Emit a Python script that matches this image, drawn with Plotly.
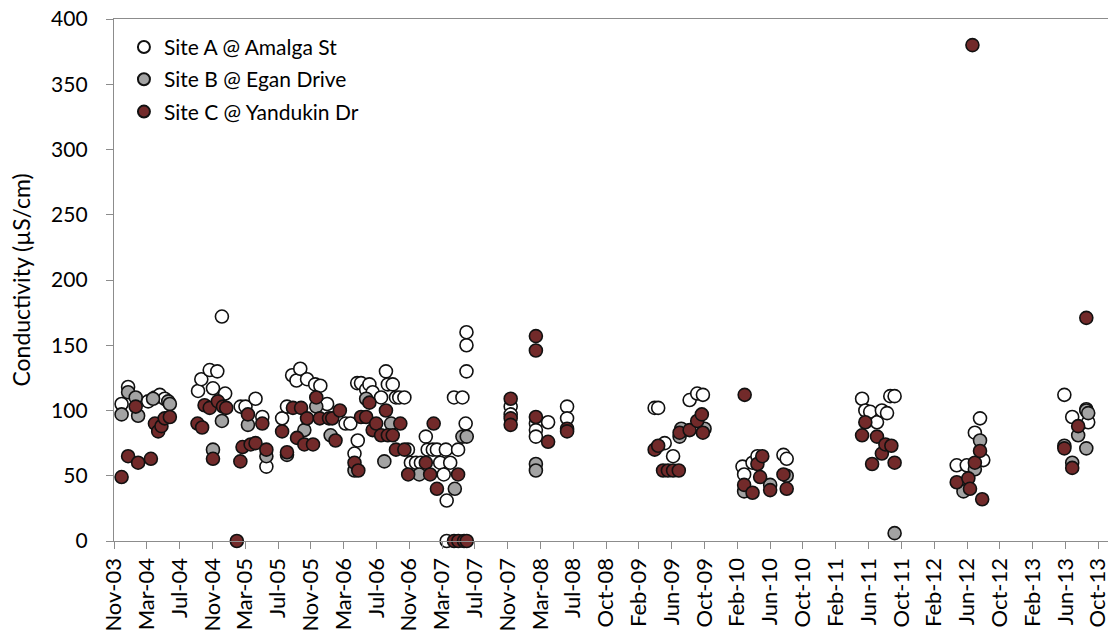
import plotly.graph_objects as go
import pandas as pd

# Conductivity samples (µS/cm) at three drainage sites
site_a_dates = [
    "2003-12-09", "2004-01-02", "2004-03-16", "2004-04-10", "2004-04-28", "2004-05-16",
    "2004-09-16", "2004-09-28", "2004-10-29", "2004-11-10", "2004-11-26", "2004-12-13",
    "2004-12-25", "2005-02-20", "2005-03-10", "2005-04-16", "2005-05-11", "2005-05-26",
    "2005-07-23", "2005-08-10", "2005-08-29", "2005-09-14", "2005-09-28", "2005-10-23",
    "2005-11-22", "2005-12-11", "2006-01-05", "2006-03-14", "2006-04-01", "2006-04-16",
    "2006-04-26", "2006-04-28", "2006-05-10", "2006-05-29", "2006-06-10", "2006-06-22",
    "2006-07-23", "2006-08-10", "2006-08-17", "2006-09-04", "2006-09-16", "2006-09-28",
    "2006-10-17", "2006-10-30", "2006-11-10", "2006-11-29", "2006-12-17", "2007-01-04",
    "2007-01-11", "2007-01-30", "2007-02-14", "2007-02-26", "2007-03-11", "2007-03-19",
    "2007-03-22", "2007-03-22", "2007-04-04", "2007-04-18", "2007-05-03", "2007-05-19",
    "2007-05-31", "2007-06-03", "2007-06-03", "2007-06-03", "2007-11-13", "2007-11-13",
    "2008-02-14", "2008-02-14", "2008-02-14", "2008-03-30", "2008-06-08", "2008-06-08",
    "2009-04-27", "2009-05-10", "2009-06-03", "2009-07-04", "2009-09-03", "2009-10-01",
    "2009-10-22", "2010-03-17", "2010-03-23", "2010-04-23", "2010-05-11", "2010-08-15",
    "2010-08-27", "2011-06-01", "2011-06-13", "2011-07-01", "2011-07-26", "2011-08-13",
    "2011-09-01", "2011-09-13", "2011-09-29", "2012-05-15", "2012-06-21", "2012-07-21",
    "2012-08-09", "2012-08-21", "2013-06-16", "2013-07-15", "2013-09-05", "2013-09-12",
]
site_a_values = [
    105, 118, 107, 110, 112, 109,
    115, 124, 131, 117, 130, 172,
    113, 103, 103, 109, 95, 57,
    94, 103, 127, 123, 132, 124,
    120, 119, 105, 90, 90, 67,
    121, 77, 121, 116, 120, 114,
    110, 130, 120, 120, 110, 110,
    110, 70, 60, 60, 60, 80,
    70, 70, 70, 60, 51, 70,
    31, 0, 60, 110, 70, 110,
    90, 130, 150, 160, 103, 97,
    90, 85, 80, 91, 103, 94,
    102, 102, 75, 65, 108, 113,
    112, 57, 51, 60, 65, 66,
    63, 109, 100, 99, 91, 100,
    98, 111, 111, 58, 58, 83,
    94, 62, 112, 95, 101, 91,
]

site_b_dates = [
    "2003-12-09", "2004-01-02", "2004-01-30", "2004-02-08", "2004-04-03", "2004-05-29",
    "2004-06-04", "2004-11-10", "2004-12-13", "2005-03-19", "2005-05-26", "2005-08-10",
    "2005-10-13", "2005-11-26", "2006-01-18", "2006-04-16", "2006-05-29", "2006-08-04",
    "2006-08-29", "2006-12-11", "2007-04-21", "2007-05-19", "2007-06-04", "2008-02-14",
    "2008-02-14", "2009-07-28", "2009-08-03", "2009-10-28", "2010-03-23", "2010-06-27",
    "2010-08-27", "2011-09-29", "2012-06-09", "2012-07-21", "2012-08-09", "2013-06-16",
    "2013-07-15", "2013-08-06", "2013-09-05", "2013-09-05", "2013-09-12",
]
site_b_values = [
    97, 114, 110, 96, 109, 107,
    105, 70, 92, 89, 65, 66,
    85, 103, 81, 54, 109, 61,
    90, 51, 40, 80, 80, 59,
    54, 80, 86, 86, 38, 43,
    50, 6, 38, 55, 77, 73,
    60, 81, 100, 71, 98,
]

site_c_dates = [
    "2003-12-09", "2004-01-02", "2004-01-30", "2004-02-08", "2004-03-26", "2004-04-10",
    "2004-04-22", "2004-05-04", "2004-05-16", "2004-06-04", "2004-09-14", "2004-10-01",
    "2004-10-10", "2004-10-29", "2004-11-10", "2004-11-28", "2004-12-17", "2004-12-29",
    "2005-02-06", "2005-02-19", "2005-02-27", "2005-03-19", "2005-03-29", "2005-04-16",
    "2005-05-11", "2005-05-26", "2005-07-23", "2005-08-10", "2005-09-01", "2005-09-16",
    "2005-10-01", "2005-10-13", "2005-10-23", "2005-11-14", "2005-11-26", "2005-12-09",
    "2006-01-12", "2006-01-24", "2006-02-05", "2006-02-21", "2006-04-16", "2006-04-30",
    "2006-05-10", "2006-05-29", "2006-06-10", "2006-06-22", "2006-07-05", "2006-07-23",
    "2006-08-10", "2006-08-17", "2006-09-04", "2006-09-16", "2006-10-02", "2006-10-17",
    "2006-10-31", "2007-01-04", "2007-01-20", "2007-02-02", "2007-02-14", "2007-05-03",
    "2007-04-18", "2007-05-04", "2007-05-25", "2007-06-04", "2007-11-13", "2007-11-13",
    "2007-11-13", "2008-02-14", "2008-02-14", "2008-02-14", "2008-03-30", "2008-06-08",
    "2008-06-08", "2009-04-27", "2009-05-10", "2009-05-28", "2009-06-15", "2009-07-04",
    "2009-07-25", "2009-07-28", "2009-09-03", "2009-10-01", "2009-10-18", "2009-10-22",
    "2010-03-25", "2010-03-23", "2010-04-23", "2010-05-11", "2010-05-21", "2010-05-29",
    "2010-06-27", "2010-08-15", "2010-08-27", "2011-06-01", "2011-06-13", "2011-07-08",
    "2011-07-26", "2011-08-13", "2011-08-26", "2011-09-17", "2011-09-29", "2012-05-15",
    "2012-06-27", "2012-07-03", "2012-07-12", "2012-07-21", "2012-08-09", "2012-08-17",
    "2013-06-16", "2013-07-15", "2013-08-06", "2013-09-05",
]
site_c_values = [
    49, 65, 103, 60, 63, 90,
    84, 88, 94, 95, 90, 87,
    104, 102, 63, 107, 103, 102,
    0, 61, 72, 97, 74, 75,
    90, 70, 84, 68, 102, 79,
    102, 74, 94, 74, 110, 94,
    94, 94, 77, 100, 60, 54,
    95, 95, 106, 85, 90, 81,
    100, 81, 81, 70, 90, 70,
    51, 60, 51, 90, 40, 51,
    0, 0, 0, 0, 109, 94,
    89, 157, 146, 95, 76, 86,
    84, 70, 73, 54, 54, 54,
    54, 83, 85, 92, 97, 83,
    112, 43, 37, 59, 49, 65,
    39, 51, 40, 81, 91, 59,
    80, 67, 74, 73, 60, 45,
    48, 40, 380, 60, 69, 32,
    71, 56, 88, 171,
]

site_names = ["Site A @ Amalga St", "Site B @ Egan Drive", "Site C @ Yandukin Dr"]
fill_colours = ["#FFFFFF", "#A3A3A3", "#722A2A"]

FONT = "Lato"
axis_grey = "#8C8C8C"

fig = go.Figure()
for name, dates, values, colour in zip(
    site_names,
    [site_a_dates, site_b_dates, site_c_dates],
    [site_a_values, site_b_values, site_c_values],
    fill_colours,
):
    fig.add_trace(go.Scatter(
        x=pd.to_datetime(dates), y=values, name=name, mode="markers",
        legendgroup=name,
        marker=dict(size=13, color=colour, line=dict(color="#111111", width=1.6)),
        cliponaxis=False,
    ))

# Date ticks every 121 days, starting at the left edge of the axis
axis_start = pd.Timestamp("2003-11-11")
tick_dates = pd.date_range(axis_start, periods=31, freq="121D")
axis_end = axis_start + pd.Timedelta(days=3666)

fig.update_layout(
    width=1108, height=636,
    margin=dict(l=114, r=0, t=19, b=95, autoexpand=False),
    paper_bgcolor="white", plot_bgcolor="white",
    font=dict(family=FONT, size=21, color="#000000"),
    showlegend=True,
    legend=dict(
        x=0.01, y=0.985, xanchor="left", yanchor="top",
        bgcolor="rgba(0,0,0,0)", borderwidth=0,
        font=dict(family=FONT, size=21, color="#000000"),
        tracegroupgap=2, itemsizing="constant",
    ),
    xaxis=dict(
        type="date", range=[axis_start, axis_end], automargin=False,
        tickvals=tick_dates, tickformat="%b-%y", tickangle=-90,
        ticklabeloverflow="allow",
        showgrid=False, zeroline=False,
        showline=True, linecolor=axis_grey, linewidth=1.3, mirror=True,
        ticks="outside", ticklen=7, tickcolor=axis_grey, tickwidth=1.3,
        tickfont=dict(family=FONT, size=22, color="#000000"),
    ),
    yaxis=dict(
        range=[0, 400], tickvals=list(range(0, 401, 50)), automargin=False,
        showgrid=False, zeroline=False,
        showline=True, linecolor=axis_grey, linewidth=1.3, mirror=False,
        ticks="outside", ticklen=7, tickcolor=axis_grey, tickwidth=1.3,
        tickfont=dict(family=FONT, size=21, color="#000000"),
        ticklabelstandoff=14,
        title=dict(text="Conductivity (µS/cm)", standoff=14,
                   font=dict(family=FONT, size=23, color="#000000")),
    ),
)

fig.write_html("out.html")
